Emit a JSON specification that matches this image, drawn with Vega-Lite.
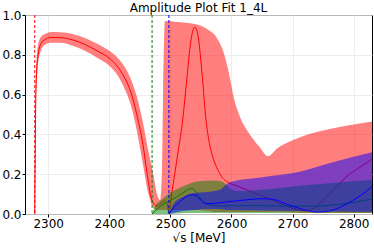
{
  "$schema": "https://vega.github.io/schema/vega-lite/v6.json",
  "width": 347,
  "height": 199,
  "autosize": "none",
  "padding": {"left": 25, "top": 15, "right": 2, "bottom": 35},
  "config": {
    "font": "DejaVu Sans",
    "view": {"stroke": "#000000", "strokeWidth": 1},
    "axis": {"grid": true, "gridColor": "#e8e8e8", "gridWidth": 0.8, "domain": false, "tickColor": "#000000", "tickSize": 3, "labelColor": "#000000", "labelFontSize": 12, "titleColor": "#000000", "titleFontWeight": "normal", "titleFontSize": 12, "labelFont": "DejaVu Sans", "titleFont": "DejaVu Sans", "labelOverlap": false}
  },
  "title": {"text": "Amplitude Plot Fit 1_4L", "fontSize": 12, "fontWeight": "normal", "color": "#000000", "font": "DejaVu Sans", "offset": -6},
  "datasets": {
    "redband": [
      {"x": 2278, "lo": 0, "hi": 0},
      {"x": 2280, "lo": 0.55, "hi": 0.72},
      {"x": 2283, "lo": 0.74, "hi": 0.84},
      {"x": 2288, "lo": 0.82, "hi": 0.89},
      {"x": 2295, "lo": 0.85, "hi": 0.905},
      {"x": 2305, "lo": 0.86, "hi": 0.915},
      {"x": 2320, "lo": 0.86, "hi": 0.913},
      {"x": 2340, "lo": 0.845, "hi": 0.905},
      {"x": 2360, "lo": 0.82, "hi": 0.885},
      {"x": 2380, "lo": 0.785, "hi": 0.855},
      {"x": 2400, "lo": 0.745, "hi": 0.82},
      {"x": 2415, "lo": 0.69, "hi": 0.78},
      {"x": 2425, "lo": 0.63, "hi": 0.74},
      {"x": 2435, "lo": 0.55, "hi": 0.68},
      {"x": 2445, "lo": 0.42, "hi": 0.59},
      {"x": 2455, "lo": 0.25, "hi": 0.46},
      {"x": 2465, "lo": 0.09, "hi": 0.3},
      {"x": 2472, "lo": 0.03, "hi": 0.2},
      {"x": 2478, "lo": 0.02, "hi": 0.1},
      {"x": 2483, "lo": 0.02, "hi": 0.07},
      {"x": 2486, "lo": 0.02, "hi": 0.2},
      {"x": 2488, "lo": 0.02, "hi": 0.6},
      {"x": 2491, "lo": 0.02, "hi": 0.97},
      {"x": 2510, "lo": 0.02, "hi": 0.965},
      {"x": 2540, "lo": 0.02, "hi": 0.955},
      {"x": 2560, "lo": 0.015, "hi": 0.93},
      {"x": 2575, "lo": 0.01, "hi": 0.89},
      {"x": 2585, "lo": 0.01, "hi": 0.83},
      {"x": 2595, "lo": 0.01, "hi": 0.72},
      {"x": 2605, "lo": 0.01, "hi": 0.57},
      {"x": 2615, "lo": 0.01, "hi": 0.48},
      {"x": 2630, "lo": 0.01, "hi": 0.4},
      {"x": 2645, "lo": 0.01, "hi": 0.34},
      {"x": 2660, "lo": 0.01, "hi": 0.29},
      {"x": 2675, "lo": 0.01, "hi": 0.33},
      {"x": 2700, "lo": 0.008, "hi": 0.37},
      {"x": 2720, "lo": 0.005, "hi": 0.395},
      {"x": 2750, "lo": 0.005, "hi": 0.42},
      {"x": 2800, "lo": 0.005, "hi": 0.45},
      {"x": 2830, "lo": 0.005, "hi": 0.465}
    ],
    "greenband": [
      {"x": 2470, "lo": 0, "hi": 0},
      {"x": 2475, "lo": 0, "hi": 0.04},
      {"x": 2485, "lo": 0, "hi": 0.07},
      {"x": 2497, "lo": 0, "hi": 0.1},
      {"x": 2510, "lo": 0.003, "hi": 0.125},
      {"x": 2525, "lo": 0.005, "hi": 0.145},
      {"x": 2546, "lo": 0.005, "hi": 0.165},
      {"x": 2570, "lo": 0.005, "hi": 0.168},
      {"x": 2585, "lo": 0.005, "hi": 0.162},
      {"x": 2597, "lo": 0.005, "hi": 0.13},
      {"x": 2610, "lo": 0.005, "hi": 0.115},
      {"x": 2650, "lo": 0.005, "hi": 0.122},
      {"x": 2700, "lo": 0.005, "hi": 0.138},
      {"x": 2750, "lo": 0.005, "hi": 0.152},
      {"x": 2830, "lo": 0.005, "hi": 0.172}
    ],
    "blueband": [
      {"x": 2497.5, "lo": 0, "hi": 0},
      {"x": 2505, "lo": 0.005, "hi": 0.05},
      {"x": 2520, "lo": 0.015, "hi": 0.085},
      {"x": 2540, "lo": 0.02, "hi": 0.105},
      {"x": 2560, "lo": 0.025, "hi": 0.11},
      {"x": 2580, "lo": 0.025, "hi": 0.12},
      {"x": 2592, "lo": 0.02, "hi": 0.15},
      {"x": 2600, "lo": 0.02, "hi": 0.162},
      {"x": 2650, "lo": 0.018, "hi": 0.185},
      {"x": 2708, "lo": 0.015, "hi": 0.21},
      {"x": 2760, "lo": 0.012, "hi": 0.255},
      {"x": 2830, "lo": 0.01, "hi": 0.31}
    ],
    "redline": [
      {"x": 2278, "y": 0},
      {"x": 2280, "y": 0.63},
      {"x": 2283, "y": 0.79},
      {"x": 2288, "y": 0.855},
      {"x": 2295, "y": 0.877},
      {"x": 2305, "y": 0.887},
      {"x": 2320, "y": 0.886},
      {"x": 2340, "y": 0.875},
      {"x": 2360, "y": 0.852},
      {"x": 2380, "y": 0.82},
      {"x": 2400, "y": 0.783},
      {"x": 2415, "y": 0.735},
      {"x": 2425, "y": 0.685},
      {"x": 2435, "y": 0.615},
      {"x": 2445, "y": 0.5},
      {"x": 2455, "y": 0.35},
      {"x": 2462, "y": 0.2},
      {"x": 2468, "y": 0.09},
      {"x": 2473, "y": 0.05},
      {"x": 2478, "y": 0.04},
      {"x": 2483, "y": 0.05},
      {"x": 2490, "y": 0.065},
      {"x": 2495, "y": 0.05},
      {"x": 2497.5, "y": 0},
      {"x": 2502, "y": 0.1},
      {"x": 2507, "y": 0.2},
      {"x": 2513, "y": 0.32},
      {"x": 2520, "y": 0.47},
      {"x": 2527, "y": 0.68},
      {"x": 2533, "y": 0.86},
      {"x": 2540, "y": 0.94},
      {"x": 2546, "y": 0.88},
      {"x": 2552, "y": 0.7},
      {"x": 2558, "y": 0.48},
      {"x": 2563, "y": 0.37},
      {"x": 2570, "y": 0.28},
      {"x": 2578, "y": 0.22},
      {"x": 2586, "y": 0.18},
      {"x": 2594, "y": 0.16},
      {"x": 2610, "y": 0.14},
      {"x": 2630, "y": 0.115},
      {"x": 2665, "y": 0.072},
      {"x": 2690, "y": 0.04},
      {"x": 2708, "y": 0.022},
      {"x": 2720, "y": 0.016},
      {"x": 2735, "y": 0.03},
      {"x": 2751, "y": 0.072},
      {"x": 2770, "y": 0.13},
      {"x": 2789, "y": 0.19},
      {"x": 2810, "y": 0.235},
      {"x": 2830, "y": 0.275}
    ],
    "greenline": [
      {"x": 2470, "y": 0},
      {"x": 2480, "y": 0.03},
      {"x": 2495, "y": 0.06},
      {"x": 2510, "y": 0.085},
      {"x": 2525, "y": 0.115},
      {"x": 2535, "y": 0.128},
      {"x": 2542, "y": 0.11},
      {"x": 2550, "y": 0.075},
      {"x": 2556, "y": 0.055},
      {"x": 2565, "y": 0.045},
      {"x": 2580, "y": 0.04},
      {"x": 2610, "y": 0.042},
      {"x": 2650, "y": 0.042},
      {"x": 2700, "y": 0.039},
      {"x": 2740, "y": 0.04},
      {"x": 2780, "y": 0.05},
      {"x": 2830, "y": 0.075}
    ],
    "blueline": [
      {"x": 2497.5, "y": 0},
      {"x": 2505, "y": 0.03},
      {"x": 2515, "y": 0.06},
      {"x": 2525, "y": 0.085},
      {"x": 2535, "y": 0.097},
      {"x": 2540, "y": 0.095},
      {"x": 2548, "y": 0.075},
      {"x": 2556, "y": 0.055},
      {"x": 2565, "y": 0.052},
      {"x": 2590, "y": 0.06},
      {"x": 2620, "y": 0.07},
      {"x": 2650, "y": 0.077},
      {"x": 2670, "y": 0.072},
      {"x": 2690, "y": 0.05},
      {"x": 2715, "y": 0.025},
      {"x": 2740, "y": 0.01},
      {"x": 2760, "y": 0.015},
      {"x": 2785, "y": 0.045},
      {"x": 2810, "y": 0.09},
      {"x": 2830, "y": 0.137}
    ],
    "thresholds": [
      {"x": 2278, "k": "r"},
      {"x": 2470, "k": "g"},
      {"x": 2497.5, "k": "b"}
    ]
  },
  "encoding": {
    "x": {"field": "x", "type": "quantitative", "scale": {"domain": [2262, 2830], "nice": false, "zero": false}, "axis": {"values": [2300, 2400, 2500, 2600, 2700, 2800], "format": "d", "title": "√s [MeV]", "titlePadding": 3, "labelPadding": 1, "labelFlush": false, "labelOverlap": false}}
  },
  "layer": [
    {
      "data": {"name": "redband"},
      "mark": {"type": "area", "color": "#ff0000", "opacity": 0.5, "interpolate": "monotone"},
      "encoding": {
        "y": {"field": "lo", "type": "quantitative", "scale": {"domain": [0, 1], "nice": false}, "axis": {"tickCount": 5, "format": ".1f", "title": null, "labelPadding": 1, "labelFlush": false, "labelOverlap": false}},
        "y2": {"field": "hi"}
      }
    },
    {
      "data": {"name": "redline"},
      "mark": {"type": "line", "color": "#ff0000", "strokeWidth": 1, "interpolate": "monotone"},
      "encoding": {
        "y": {"field": "y", "type": "quantitative"}
      }
    },
    {
      "data": {"name": "greenband"},
      "mark": {"type": "area", "color": "#008000", "opacity": 0.5, "interpolate": "monotone"},
      "encoding": {
        "y": {"field": "lo", "type": "quantitative"},
        "y2": {"field": "hi"}
      }
    },
    {
      "data": {"name": "greenline"},
      "mark": {"type": "line", "color": "#008000", "strokeWidth": 1, "interpolate": "monotone"},
      "encoding": {
        "y": {"field": "y", "type": "quantitative"}
      }
    },
    {
      "data": {"name": "blueband"},
      "mark": {"type": "area", "color": "#0000ff", "opacity": 0.5, "interpolate": "monotone"},
      "encoding": {
        "y": {"field": "lo", "type": "quantitative"},
        "y2": {"field": "hi"}
      }
    },
    {
      "data": {"name": "blueline"},
      "mark": {"type": "line", "color": "#0000ff", "strokeWidth": 1, "interpolate": "monotone"},
      "encoding": {
        "y": {"field": "y", "type": "quantitative"}
      }
    },
    {
      "data": {"name": "thresholds"},
      "mark": {"type": "rule", "strokeWidth": 1, "strokeDash": [3, 2]},
      "encoding": {
        "color": {"field": "k", "type": "nominal", "scale": {"domain": ["r", "g", "b"], "range": ["#ff0000", "#008000", "#0000ff"]}, "legend": null}
      }
    }
  ]
}
